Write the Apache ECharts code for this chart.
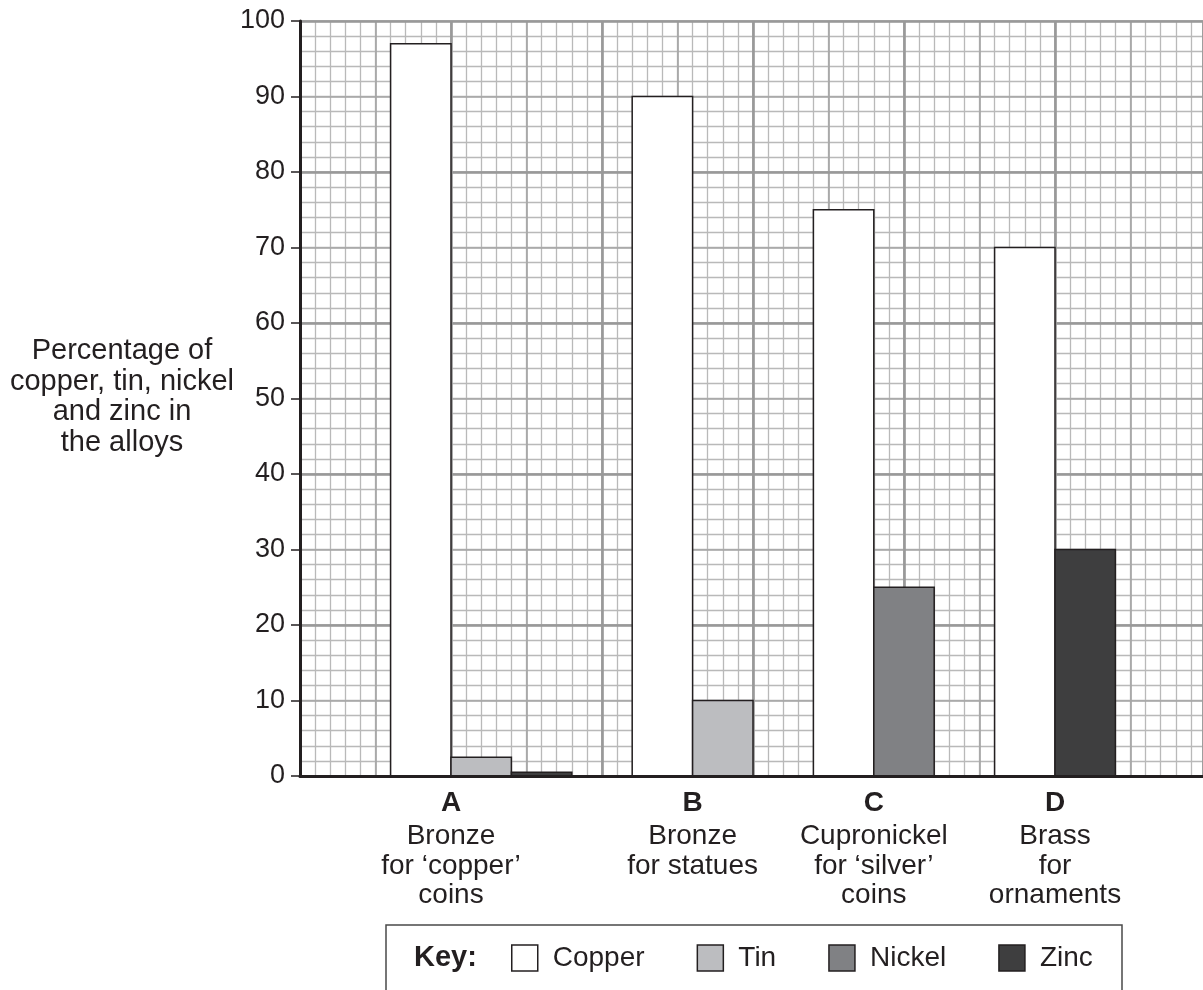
<!DOCTYPE html>
<html><head><meta charset="utf-8">
<script src="https://cdn.jsdelivr.net/npm/echarts@6/dist/echarts.min.js"></script>
<style>html,body{margin:0;padding:0;background:#fff}#c{width:1203px;height:990px}</style>
</head><body><div id="c"></div>
<script>
// ---- data ----
const categories = ['A', 'B', 'C', 'D'];
const descriptions = [
  ['Bronze', 'for ‘copper’', 'coins'],
  ['Bronze', 'for statues'],
  ['Cupronickel', 'for ‘silver’', 'coins'],
  ['Brass', 'for', 'ornaments']
];
const metals = ['Copper', 'Tin', 'Nickel', 'Zinc'];
const copper = [97, 90, 75, 70];
const tin = [2.5, 10, null, null];
const nickel = [null, null, 25, null];
const zinc = [0.5, null, null, 30];
const yTickLabels = ['0', '10', '20', '30', '40', '50', '60', '70', '80', '90', '100'];
const yTitle = ['Percentage of', 'copper, tin, nickel', 'and zinc in', 'the alloys'];

// ---- layout (grid squares) ----
const GRID_LEFT = 300, GRID_TOP = 21, GRID_W = 903, GRID_H = 755;
const Y_CELLS = 50;                              // 2 % per square
const X_MAX = GRID_W * Y_CELLS / GRID_H;         // keep squares square
const FIRST = 6, BAR = 4, GAP = 4;               // in squares
const FONT = '"Liberation Sans", Arial, Helvetica, sans-serif';
const INK = '#231f20';
const colors = ['#ffffff', '#bcbdc0', '#808184', '#3e3e3f'];

const seriesValues = [copper, tin, nickel, zinc];
const rects = metals.map(() => []);
const labelPos = [];
let cur = FIRST;
categories.forEach((c, i) => {
  let first = true;
  seriesValues.forEach((vals, m) => {
    const v = vals[i];
    if (v == null) return;
    rects[m].push([cur, cur + BAR, v]);
    cur += BAR;
    if (first) { labelPos.push(cur); first = false; }
  });
  cur += GAP;
});

const chart = echarts.init(document.getElementById('c'), null, {renderer: 'canvas'});

function gridAxis(max, interval, z, pos, color, width) {
  return {
    type: 'value', min: 0, max: max, interval: interval, z: z, position: pos,
    axisLine: {show: false}, axisTick: {show: false}, axisLabel: {show: false},
    splitLine: {show: true, lineStyle: {color: color, width: width}}
  };
}

const option = {
  animation: false,
  backgroundColor: '#fff',
  textStyle: {fontFamily: FONT},
  grid: {left: GRID_LEFT, top: GRID_TOP, width: GRID_W, height: GRID_H},
  xAxis: [
    {
      type: 'value', min: 0, max: X_MAX, position: 'bottom', z: 10,
      axisLine: {show: true, lineStyle: {color: INK, width: 3}},
      axisTick: {show: false},
      splitLine: {show: false},
      axisLabel: {
        show: true, customValues: labelPos, margin: 8,
        formatter: (v) => {
          const i = labelPos.indexOf(v);
          if (i < 0) return '';
          return '{b|' + categories[i] + '}\n' + descriptions[i].map(s => '{n|' + s + '}').join('\n');
        },
        rich: {
          b: {fontSize: 28, fontWeight: 'bold', color: INK, lineHeight: 38, fontFamily: FONT},
          n: {fontSize: 28, color: INK, lineHeight: 29.5, fontFamily: FONT}
        }
      }
    },
    gridAxis(X_MAX, 1, 0, 'top', '#b9b9b9', 1.3),
    gridAxis(X_MAX, 5, 1, 'top', '#a6a6a6', 1.7),
    gridAxis(X_MAX, 10, 2, 'top', '#999999', 2.6)
  ],
  yAxis: [
    {
      type: 'value', min: 0, max: 100, interval: 10, z: 10,
      axisLine: {show: true, lineStyle: {color: INK, width: 3}},
      axisTick: {show: true, length: 9, lineStyle: {color: INK, width: 1.5}},
      splitLine: {show: false},
      axisLabel: {
        fontSize: 27, color: INK, margin: 15, fontFamily: FONT,
        formatter: (v) => yTickLabels[Math.round(v / 10)]
      }
    },
    gridAxis(100, 2, 0, 'right', '#b9b9b9', 1.3),
    gridAxis(100, 10, 1, 'right', '#a6a6a6', 1.7),
    gridAxis(100, 20, 2, 'right', '#999999', 2.6)
  ],
  legend: {
    left: 511, top: 943, padding: 0, itemWidth: 26, itemHeight: 26, itemGap: 52,
    icon: 'rect', selectedMode: false,
    textStyle: {fontSize: 28, color: INK, fontFamily: FONT, lineHeight: 30, padding: [0, 0, 0, 10]},
    data: metals.map((m, i) => ({
      name: m,
      itemStyle: {color: colors[i], borderColor: INK, borderWidth: 1.5}
    }))
  },
  graphic: [
    {
      type: 'text', x: 122, y: 397, z: 20,
      style: {
        text: yTitle.join('\n'), fill: INK, font: '29px ' + FONT,
        align: 'center', verticalAlign: 'middle', lineHeight: 30.5
      }
    },
    {
      type: 'rect', z: 20,
      shape: {x: 386, y: 925, width: 736, height: 68},
      style: {fill: 'none', stroke: '#4a4a4a', lineWidth: 1.5}
    },
    {
      type: 'text', x: 414, y: 958, z: 20,
      style: {text: 'Key:', fill: INK, font: 'bold 29px ' + FONT, verticalAlign: 'middle'}
    }
  ],
  series: metals.map((m, mi) => ({
    name: m, type: 'custom', xAxisIndex: 0, yAxisIndex: 0, z: 5,
    itemStyle: {color: colors[mi], borderColor: INK, borderWidth: 1.5},
    encode: {x: [0, 1], y: 2},
    data: rects[mi],
    renderItem: (params, api) => {
      const p0 = api.coord([api.value(0), api.value(2)]);
      const p1 = api.coord([api.value(1), 0]);
      return {
        type: 'rect',
        shape: {x: p0[0], y: p0[1], width: p1[0] - p0[0], height: p1[1] - p0[1]},
        style: {fill: colors[mi], stroke: INK, lineWidth: 1.5}
      };
    }
  }))
};
chart.setOption(option);
</script></body></html>
